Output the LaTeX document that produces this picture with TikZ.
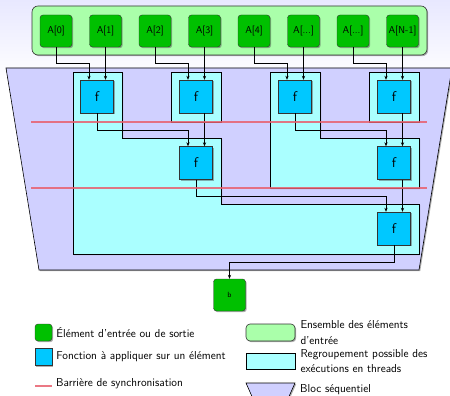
\documentclass[tikz,border=0pt]{standalone}
\usepackage{tikz}
\definecolor{elemgreen}{HTML}{00C000}
\definecolor{setgreen}{HTML}{AAFFAA}
\definecolor{fctblue}{HTML}{00C8FF}
\definecolor{thrcyan}{HTML}{AAFFFF}
\definecolor{seqblue}{HTML}{D0D0FF}
\definecolor{barrier}{HTML}{E8606E}
\usetikzlibrary{arrows.meta,positioning,shadows}

\begin{document}
\begin{tikzpicture}[x=1pt,y=-1pt,
  sdw/.style={drop shadow={shadow xshift=1.2pt,shadow yshift=-1.2pt,
              opacity=0.45,fill=black!70}},
  elem/.style={rectangle,rounded corners=3pt,draw=black!80,fill=elemgreen,
               minimum width=32pt,minimum height=32pt,inner sep=0pt,sdw,
               font=\sffamily\fontsize{10}{11}\selectfont},
  fct/.style={rectangle,draw=black!80,fill=fctblue,minimum size=33pt,
              inner sep=0pt,sdw,font=\sffamily\fontsize{14}{16}\selectfont},
  grp/.style={draw=black,fill=thrcyan,line width=0.6pt,sdw},
  arr/.style={-{Stealth[length=4pt,width=3.2pt]},black,line width=0.6pt},
  sync/.style={barrier,line width=1.2pt,opacity=0.85},
  legtxt/.style={inner sep=1pt,align=left,
                 font=\sffamily\fontsize{11.5}{15.5}\selectfont}]
  \useasboundingbox (0,0) rectangle (450,396);
  \shade[top color=blue!9!white,bottom color=white] (0,0) rectangle (450,80);
  % blocs
  \draw[fill=seqblue,line width=0.6pt,sdw] (6,68) -- (452,68) -- (419,270) -- (39,270) -- cycle;
  \draw[grp] (73,72) -- (122,72) -- (122,138) -- (221,138) -- (221,204)
             -- (419,204) -- (419,254) -- (73,254) -- cycle;
  \draw[grp] (270,72) -- (320,72) -- (320,138) -- (419,138) -- (419,188) -- (270,188) -- cycle;
  \draw[grp] (171,72) rectangle (221,122);
  \draw[grp] (369,72) rectangle (419,122);
  \draw[fill=setgreen,draw=black!80,rounded corners=6pt,line width=0.6pt,sdw] (32,6) rectangle (427,55);
  % entrees
  \foreach \i/\lbl in {0/{A[0]},1/{A[1]},2/{A[2]},3/{A[3]},4/{A[4]},5/{A[...]},6/{A[...]},7/{A[N-1]}}
    \node[elem] (a\i) at ({56+49.5*\i},31) {\lbl};
  % fonctions
  \node[fct] (f10) at (97,96.5) {f};
  \node[fct] (f11) at (196,96.5) {f};
  \node[fct] (f12) at (295,96.5) {f};
  \node[fct] (f13) at (394,96.5) {f};
  \node[fct] (f20) at (196,163) {f};
  \node[fct] (f21) at (394,163) {f};
  \node[fct] (f30) at (394,228.5) {f};
  \node[elem,font=\sffamily\fontsize{7.5}{8}\selectfont] (b) at (229.5,295) {b};
  \coordinate (jin) at (0,63);
  \coordinate (jl1) at (0,130);
  \coordinate (jl2) at (0,196);
  \coordinate (jout) at (0,262);
  \draw[arr] (a0.south) -- (a0.south |- jin) -| ([xshift=-8pt]f10.north);
  \draw[arr] (a1.south) -- (a1.south |- f10.north);
  \draw[arr] (a2.south) -- (a2.south |- jin) -| ([xshift=-8pt]f11.north);
  \draw[arr] (a3.south) -- (a3.south |- f11.north);
  \draw[arr] (a4.south) -- (a4.south |- jin) -| ([xshift=-8pt]f12.north);
  \draw[arr] (a5.south) -- (a5.south |- f12.north);
  \draw[arr] (a6.south) -- (a6.south |- jin) -| ([xshift=-8pt]f13.north);
  \draw[arr] (a7.south) -- (a7.south |- f13.north);
  \draw[arr] (f10.south) -- (f10.south |- jl1) -| ([xshift=-8pt]f20.north);
  \draw[arr] (a3.south |- f11.south) -- (a3.south |- f20.north);
  \draw[arr] (f12.south) -- (f12.south |- jl1) -| ([xshift=-8pt]f21.north);
  \draw[arr] (a7.south |- f13.south) -- (a7.south |- f21.north);
  \draw[arr] (f20.south) -- (f20.south |- jl2) -| ([xshift=-8pt]f30.north);
  \draw[arr] (a7.south |- f21.south) -- (a7.south |- f30.north);
  \draw[arr] (f30.south) -- (f30.south |- jout) -| (b.north);
  % barrieres
  \draw[sync] (31,122) -- (427,122);
  \draw[sync] (31,188) -- (427,188);
  % legende
  \node[elem,minimum width=17pt,minimum height=17pt] (kelem) at (43.5,332.5) {};
  \node[legtxt,right=3pt of kelem] (telem) {Élément d'entrée ou de sortie};
  \node[fct,minimum size=17pt] (kfct) at (43.5,357) {};
  \node[legtxt,right=3pt of kfct] (tfct) {Fonction à appliquer sur un élément};
  \coordinate (ksync) at (35,386);
  \draw[sync] (ksync) -- ++(17,0);
  \node[legtxt,anchor=base west] (tsync) at (55,386) {Barrière de synchronisation};
  \node[rectangle,rounded corners=4pt,draw=black!80,fill=setgreen,line width=0.6pt,sdw,
        minimum width=49pt,minimum height=17pt] (kset) at (270.5,332.5) {};
  \node[legtxt,right=4pt of kset] (tset) {Ensemble des éléments\\d'entrée};
  \node[grp,minimum width=49pt,minimum height=16pt] (kthr) at (270.5,361) {};
  \node[legtxt,right=4pt of kthr] (tthr) {Regroupement possible des\\exécutions en threads};
  \draw[fill=seqblue,line width=0.6pt,sdw] (246,383) -- (295,383) -- (287,401) -- (254,401) -- cycle;
  \node[legtxt,anchor=west] (tseq) at (299,390) {Bloc séquentiel};
\end{tikzpicture}
\end{document}
